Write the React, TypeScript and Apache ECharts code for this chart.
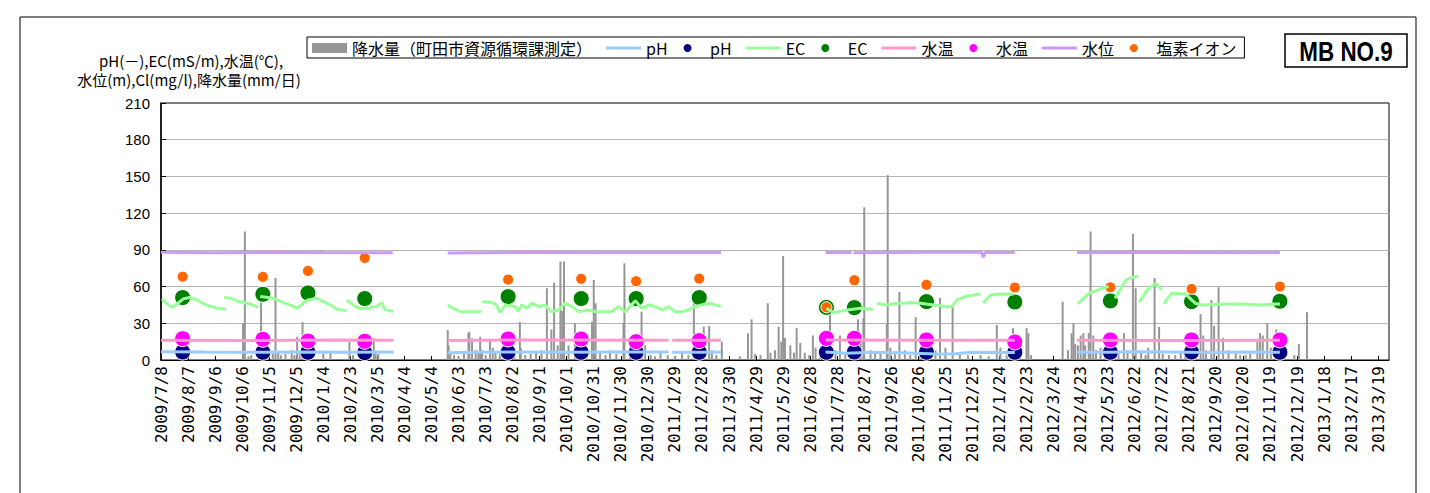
import React, { useEffect, useRef } from "react";
import * as echarts from "echarts";

// ---- axis definitions ----
const START_DATE = Date.UTC(2009, 6, 8); // day 0 = 2009/7/8
const X_MAX_DAY = 1362; // 2013/3/31
const X_TICK_DAYS = 30;
const Y_MIN = 0;
const Y_MAX = 210;
const Y_INTERVAL = 30;

// ---- sampling (markers) ----
const sampleDates = [
  "2009/8/1", "2009/10/29", "2009/12/18", "2010/2/19", "2010/7/28", "2010/10/17", "2010/12/17", "2011/2/25",
  "2011/7/16", "2011/8/16", "2011/11/4", "2012/2/10", "2012/5/26", "2012/8/24", "2012/11/30",
];
const phSample = [6.5, 6.3, 6.3, 6.0, 6.3, 6.3, 6.3, 6.3, 6.3, 6.5, 6.3, 6.3, 6.3, 6.5, 6.3];
const ecSample = [51.0, 53.7, 54.8, 50.2, 51.8, 50.2, 50.2, 51.0, 43.0, 42.8, 47.7, 47.4, 48.3, 47.7, 48.0];
const tempSample = [17.4, 16.9, 15.5, 15.3, 17.2, 17.2, 15.0, 15.8, 17.7, 17.7, 16.4, 14.7, 16.4, 16.4, 16.4];
const clSample = [68.1, 67.9, 72.8, 83.4, 65.7, 66.3, 64.4, 66.5, 43.1, 65.2, 61.4, 59.2, 59.4, 58.1, 60.0];

// ---- daily rainfall (day offset from 2009/7/8, mm/day) ----
const rainDay = [
  91, 93, 97, 100, 111, 113, 118, 124, 127, 130, 133, 138, 145, 148, 151, 154, 157, 160, 180, 188, 209, 213, 236, 238, 241,
  318, 319, 321, 325, 330, 336, 341, 342, 345, 349, 352, 354, 356, 360, 365, 368, 371, 376, 381, 387, 392, 398, 399, 404, 410,
  416, 422, 428, 433, 436, 440, 443, 445, 447, 452, 459, 465, 470, 478, 480, 482, 487, 493, 498, 505, 513, 514, 520, 527, 533,
  537, 543, 548, 554, 562, 570, 578, 585, 591, 598, 602, 608, 611, 616, 622, 642, 651, 655, 659, 665, 673, 676, 681, 685, 688,
  690, 692, 698, 702, 705, 709, 714, 719, 723, 726, 731, 736, 742, 748, 753, 759, 764, 769, 773, 776, 779, 780, 787, 792, 798,
  805, 806, 809, 814, 819, 825, 831, 837, 842, 848, 853, 859, 864, 870, 878, 886, 895, 909, 918, 927, 931, 938, 945, 948, 953,
  960, 962, 965, 1000, 1006, 1010, 1012, 1014, 1017, 1020, 1023, 1025, 1029, 1031, 1034, 1037, 1042, 1047, 1053, 1057, 1062,
  1068, 1072, 1078, 1081, 1087, 1092, 1095, 1102, 1107, 1111, 1118, 1125, 1131, 1136, 1142, 1147, 1153, 1156, 1159, 1165,
  1168, 1173, 1178, 1184, 1192, 1197, 1203, 1208, 1216, 1219, 1222, 1227, 1231, 1237, 1242, 1257, 1262, 1271,
];
const rainMm = [
  30, 105, 3, 4, 48, 6, 3, 5, 67, 6, 4, 5, 8, 4, 19, 6, 31, 3, 5, 6, 15, 4, 18, 6, 5,
  24.5, 12, 6, 4, 3, 5, 22, 23, 17.7, 8, 6, 19, 8, 4, 16, 10, 7, 5, 4, 10, 6, 31, 10, 4, 5,
  6, 8, 58.6, 25, 63.2, 12, 80.4, 40, 80.4, 12, 30, 8, 5, 31, 65.4, 46.4, 6, 4, 8, 5, 30, 79, 5, 4, 39.5,
  12, 4, 3, 6, 4, 3, 6, 4, 47.7, 10, 27.3, 27.8, 8, 4, 15, 3, 21.8, 33.2, 5, 4, 46.4, 6, 8, 27.3, 15,
  85, 18, 12, 6, 26, 14, 6, 4, 20, 10, 5, 8, 38, 8, 20, 6, 10, 4, 33.2, 14, 34, 124.8, 8, 5, 6,
  30, 151, 10, 6, 55.6, 8, 4, 35, 6, 4, 5, 8, 50.7, 10, 44, 5, 4, 4, 3, 28.6, 10, 4, 26, 10, 8,
  26.2, 22, 4, 47.7, 8, 22, 30, 13, 12, 20, 22, 12, 22, 105, 20, 8, 10, 6, 5, 4, 6,
  22, 8, 103, 58.6, 6, 4, 10, 67, 27, 5, 4, 4, 6, 8, 4, 10, 37.6, 20, 8, 49,
  28, 59.4, 18, 8, 5, 4, 4, 6, 15, 22, 20, 30, 10, 25, 6, 4, 13, 39,
];

// ---- continuous records: [day offset, value], one list per unbroken segment ----
const ecSegments = [
  [[1, 50], [5, 47], [10, 44], [13, 43], [18, 46], [25, 50], [32, 51], [40, 49], [47, 46], [54, 44], [62, 42.5], [72, 41.5]],
  [[70, 51], [78, 50.5], [85, 48], [92, 47], [100, 45.5], [108, 43]],
  [[110, 51.8], [117, 51.2], [128, 49.6], [136, 46.9], [143, 45], [151, 42.3], [158, 46.4], [163, 49], [173, 50.5], [180, 47.7], [188, 45], [195, 41.4], [206, 40.3]],
  [[206, 49], [213, 45], [219, 42.3], [228, 42.3], [239, 43.6], [245, 46.9], [248, 41.4], [258, 39.5]],
  [[318, 45], [324, 42.3], [332, 39.5], [337, 39.5], [355, 39.5]],
  [[356, 47.7], [367, 46.9], [372, 45], [376, 38.7], [382, 45], [393, 43.6], [396, 39.5], [400, 45], [406, 42.3], [411, 46.4], [419, 43.6], [426, 45], [433, 39.5], [441, 40.9], [448, 46.4], [456, 43.6], [463, 39.5], [474, 40.9], [482, 39.5], [489, 39.5], [500, 39.5], [507, 43.6], [515, 39.5], [526, 48.5], [533, 42.3], [541, 45], [548, 43.6], [556, 40.9], [563, 43.6], [570, 39.5], [578, 39.5], [585, 40.9], [592, 43.6], [607, 46.4], [615, 45], [621, 43.6]],
  [[738, 42.3], [746, 38.7], [761, 40.9], [776, 42.3], [790, 41.5]],
  [[794, 46.4], [805, 45], [816, 46.4], [824, 46.4], [831, 47], [842, 46.4], [857, 45], [872, 43.6], [877, 43.6], [883, 49.1], [894, 52.3], [909, 54]],
  [[912, 46.4], [920, 53.2], [931, 54], [946, 54]],
  [[1017, 45.8], [1029, 54.4], [1044, 58.6], [1051, 60]],
  [[1058, 50.5], [1070, 65.4], [1081, 68.2], [1084, 68.2]],
  [[1085, 47.2], [1094, 57.5], [1103, 62.4], [1110, 57.5]],
  [[1112, 45.8], [1121, 54.5], [1136, 54], [1147, 46.4], [1155, 45], [1181, 45.8], [1199, 45.8], [1217, 45], [1236, 45.8], [1241, 45.8]],
];
const phSegments = [
  [[0, 6.8], [50, 6.5], [100, 6.3], [160, 6.5], [210, 6.3], [258, 6.6]],
  [[318, 6.0], [350, 6.3], [400, 6.6], [450, 6.4], [500, 6.6], [563, 6.5]],
  [[567, 6.4], [600, 6.3], [621, 6.5]],
  [[737, 6.6], [760, 5.6], [790, 6.3], [820, 6.0], [860, 5.0], [880, 5.2], [900, 6.3], [947, 6.2]],
  [[1016, 6.3], [1050, 6.3], [1080, 6.8], [1120, 6.5], [1160, 6.2], [1200, 6.5], [1241, 6.4]],
];
const tempSegments = [
  [[0, 16.2], [100, 16.0], [200, 16.3], [258, 16.2]],
  [[318, 16.0], [400, 16.3], [563, 16.1]],
  [[567, 16.1], [621, 16.1]],
  [[737, 16.3], [850, 16.1], [947, 16.2]],
  [[1016, 16.2], [1130, 16.0], [1241, 16.1]],
];
const levelSegments = [
  [[0, 88], [60, 87.6], [120, 88], [180, 87.8], [257, 87.6]],
  [[318, 87.5], [400, 88], [500, 87.8], [621, 87.8]],
  [[737, 87.8], [766, 87.8]],
  [[768, 87.6], [850, 88], [910, 88], [912, 84], [914, 87.8], [947, 87.8]],
  [[1016, 87.8], [1100, 88], [1241, 87.8]],
];

const NAME_RAIN = "降水量（町田市資源循環課測定）";
const Y_TITLE_1 = "pH(－),EC(mS/m),水温(℃),";
const Y_TITLE_2 = "水位(m),Cl(mg/l),降水量(mm/日)";
const BADGE = "MB NO.9";

function toDay(s: string) {
  const [y, m, d] = s.split("/").map(Number);
  return Math.round((Date.UTC(y, m - 1, d) - START_DATE) / 86400000);
}
function dayLabel(v: number) {
  const dt = new Date(START_DATE + v * 86400000);
  return `${dt.getUTCFullYear()}/${dt.getUTCMonth() + 1}/${dt.getUTCDate()}`;
}
function joinSegments(segs: number[][][]) {
  const out: any[] = [];
  segs.forEach((seg, i) => {
    if (i > 0) out.push([seg[0][0], null]);
    seg.forEach((p) => out.push([p[0], p[1]]));
  });
  return out;
}

const JP = '"Noto Sans CJK JP", sans-serif';
const LINE_ICON = "path://M0,0 L35,0 L35,3 L0,3 Z";

export default function App() {
  const ref = useRef<HTMLDivElement>(null);
  useEffect(() => {
    if (!ref.current) return;
    const chart = echarts.init(ref.current, null, { renderer: "svg" });
    const sampleX = sampleDates.map(toDay);
    const lineSeries = (name: string, color: string, segs: number[][][]) => ({
      name,
      type: "line",
      data: joinSegments(segs),
      symbol: "none",
      connectNulls: false,
      lineStyle: { color, width: 3 },
      itemStyle: { color },
    });
    const dotSeries = (name: string, color: string, vals: number[], size: number) => ({
      name,
      type: "scatter",
      data: sampleX.map((d, i) => [d, vals[i]]),
      symbol: "circle",
      symbolSize: size,
      itemStyle: { color, opacity: 1, borderColor: "#fff", borderWidth: 1 },
    });
    const titleText = (text: string, x: number, y: number) => ({
      type: "text",
      x,
      y,
      style: {
        text,
        font: `15px ${JP}`,
        fill: "#000",
        textAlign: "center",
        textVerticalAlign: "middle",
      },
    });
    chart.setOption({
      animation: false,
      backgroundColor: "#fff",
      textStyle: { fontFamily: JP },
      grid: {
        left: 161,
        right: 41,
        top: 103,
        bottom: 133,
        show: true,
        borderColor: "#000",
        borderWidth: 1,
        backgroundColor: "transparent",
      },
      legend: {
        left: 307,
        top: 37,
        padding: [3, 8, 2, 5],
        borderColor: "#000",
        borderWidth: 1,
        itemWidth: 35,
        itemHeight: 10,
        itemGap: 14,
        formatter: (n: string) => n.trim(),
        textStyle: { fontSize: 16, color: "#000", fontFamily: JP },
        data: [
          { name: NAME_RAIN, icon: "rect" },
          { name: "pH", icon: LINE_ICON },
          { name: "pH ", icon: "circle" },
          { name: "EC", icon: LINE_ICON },
          { name: "EC ", icon: "circle" },
          { name: "水温", icon: LINE_ICON },
          { name: "水温 ", icon: "circle" },
          { name: "水位", icon: LINE_ICON },
          { name: "塩素イオン", icon: "circle" },
        ],
      },
      xAxis: {
        type: "value",
        min: 0,
        max: X_MAX_DAY,
        interval: X_TICK_DAYS,
        axisLine: { show: true, lineStyle: { color: "#000", width: 1 } },
        axisTick: { show: true, inside: true, length: 4, lineStyle: { color: "#000" } },
        splitLine: { show: false },
        axisLabel: {
          rotate: 90,
          margin: 6,
          fontSize: 16,
          color: "#000",
          fontFamily: '"DejaVu Sans Mono", monospace',
          showMaxLabel: false,
          formatter: (v: number) => (v % X_TICK_DAYS === 0 ? dayLabel(v) : ""),
        },
      },
      yAxis: {
        type: "value",
        min: Y_MIN,
        max: Y_MAX,
        interval: Y_INTERVAL,
        axisLine: { show: true, lineStyle: { color: "#000", width: 1.5 } },
        axisTick: { show: true, inside: true, length: 5, lineStyle: { color: "#000" } },
        splitLine: { show: true, showMaxLine: false, lineStyle: { color: "#b4b4b4", width: 1 } },
        axisLabel: { fontSize: 15, color: "#000", margin: 11, fontFamily: '"Liberation Sans", Arial, sans-serif' },
      },
      series: [
        {
          name: NAME_RAIN,
          type: "bar",
          data: rainDay.map((d, i) => [d, rainMm[i]]),
          barWidth: 2,
          itemStyle: { color: "#969696" },
        },
        lineSeries("pH", "#99ccff", phSegments),
        dotSeries("pH ", "#000080", phSample, 16),
        lineSeries("EC", "#99ff99", ecSegments),
        dotSeries("EC ", "#008000", ecSample, 16),
        lineSeries("水温", "#ff99cc", tempSegments),
        dotSeries("水温 ", "#ff00ff", tempSample, 16),
        lineSeries("水位", "#cc99ff", levelSegments),
        dotSeries("塩素イオン", "#ff6600", clSample, 11),
      ],
      graphic: [
        {
          type: "rect",
          shape: { x: 20, y: 17, width: 1396, height: 500 },
          style: { fill: "none", stroke: "#000", lineWidth: 1 },
          silent: true,
        },
        titleText(Y_TITLE_1, 191, 60),
        titleText(Y_TITLE_2, 189, 79),
        {
          type: "rect",
          shape: { x: 1285, y: 34, width: 122, height: 33 },
          style: { fill: "#fff", stroke: "#000", lineWidth: 1.5 },
        },
        {
          type: "text",
          x: 1346,
          y: 51,
          scaleX: 0.8,
          style: {
            text: BADGE,
            font: 'bold 28px "Liberation Sans", sans-serif',
            fill: "#000",
            textAlign: "center",
            textVerticalAlign: "middle",
          },
        },
      ],
    });
    return () => chart.dispose();
  }, []);
  return (
    <div
      ref={ref}
      style={{ position: "fixed", left: 0, top: 0, width: 1430, height: 493, background: "#fff" }}
    />
  );
}
